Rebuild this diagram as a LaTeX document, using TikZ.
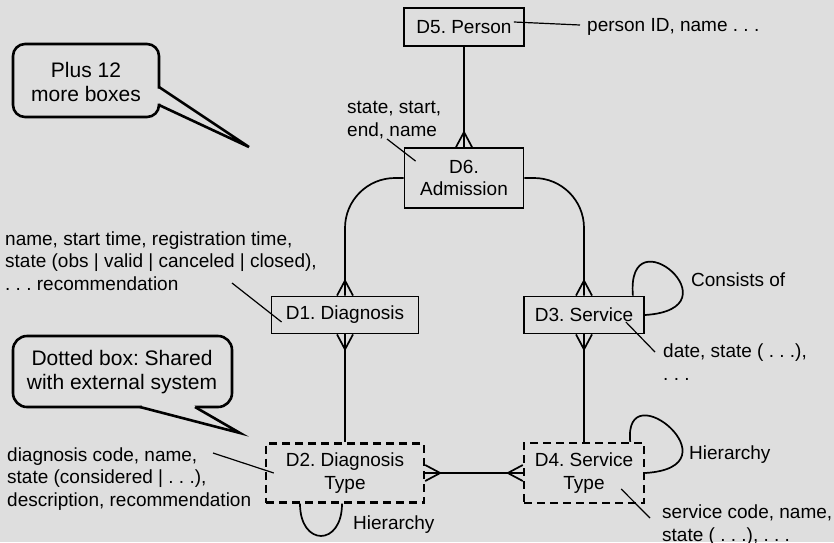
\documentclass[tikz,border=0pt]{standalone}
\usepackage{fontspec}
\setmainfont{Liberation Sans}
\usepackage{tikz}
\usetikzlibrary{positioning}
\usetikzlibrary{decorations.markings}
\frenchspacing
\definecolor{mgray}{rgb}{0.87, 0.87, 0.87}
\tikzset{entity/.style = {draw, fill = mgray, line width = 1.8pt, align = center, inner sep = 0}}
\tikzset{shared/.style = {entity, line width = 2.4pt, dash pattern = on 8pt off 5pt}}
\tikzset{attr/.style = {anchor = west, align = left, inner sep = 0}}
\tikzset{leader/.style = {line width = 1.2pt}}
\tikzset{rel/.style = {line width = 1.7pt}}
\tikzset{bubble/.style = {line width = 2.6pt}}
\tikzset{bubbletext/.style = {align = center, inner sep = 0, font = \fontsize{21}{24.5}\selectfont}}
\tikzset{many end/.style = {postaction = {decorate, decoration = {markings, mark = at position 0.9999 with {\draw [rel] (-15, 0) -- (0, 8) (-15, 0) -- (0, -8);}}}}}
\tikzset{many start/.style = {postaction = {decorate, decoration = {markings, mark = at position 0 with {\draw [rel] (15, 0) -- (0, 8) (15, 0) -- (0, -8);}}}}}

\begin{document}
\begin{tikzpicture}[x = 1pt, y = -1pt, font = \fontsize{19}{22.8}\selectfont]
  \fill [mgray] (0, 0) rectangle (834, 542);
  \useasboundingbox (0, 0) rectangle (834, 542);

  \node [entity, minimum width = 120pt, minimum height = 38pt] (person) at (464, 27) {D5. Person};
  \node [entity, minimum width = 119pt, minimum height = 60pt] (admission) at (464, 178) {D6.\\Admission};
  \node [entity, minimum width = 147pt, minimum height = 37pt] (diagnosis) at (345, 315) {D1. Diagnosis};
  \node [entity, minimum width = 120pt, minimum height = 37pt] (service) at (584, 315) {D3. Service};
  \node [shared, minimum width = 158pt, minimum height = 59pt] (diagtype) at (345, 473) {D2. Diagnosis\\Type};
  \node [shared, minimum width = 120pt, minimum height = 60pt] (servtype) at (584, 473) {D4. Service\\Type};

  \draw [rel, many end] (person) -- (admission);
  \draw [rel, many end, rounded corners = 50pt] (admission.west) -| (diagnosis.north);
  \draw [rel, many end, rounded corners = 50pt] (admission.east) -| (service.north);
  \draw [rel, many start] (diagnosis) -- (diagtype);
  \draw [rel, many start] (service) -- (servtype);
  \draw [rel, many start, many end] (diagtype) -- (servtype);
  \draw [rel, many end] ([xshift = -12pt] service.north east) .. controls +(-7, -84) and +(95, -6) .. (service.east);
  \draw [rel, many end] ([xshift = -15pt] servtype.north east) .. controls +(-7, -72) and +(95, -6) .. (servtype.east);
  \draw [rel, many end] ([xshift = -3pt] diagtype.south) .. controls +(0, 43) and +(0, 43) .. ([xshift = -45pt] diagtype.south);

  \node [attr] (personattr) at (587, 27) {person ID, name . . .};
  \node [attr] (admattr) at (347, 120) {state, start,\\end, name};
  \node [attr] (diagattr) at (5, 261) {name, start time, registration time,\\state (obs | valid | canceled | closed),\\. . . recommendation};
  \node [attr] (servattr) at (663, 362) {date, state ( . . .),\\. . .};
  \node [attr] (consists) at (691, 280) {Consists of};
  \node [attr] (servhier) at (689, 455) {Hierarchy};
  \node [attr] (stattr) at (662, 525) {service code, name,\\state ( . . .), . . .};
  \node [attr] (dtattr) at (7, 479) {diagnosis code, name,\\state (considered | . . .),\\description, recommendation};
  \node [attr] (diaghier) at (353, 525) {Hierarchy};

  \draw [leader] ([shift = {(-11, -5)}] person.east) -- ([shift = {(-7, -2)}] personattr.west);
  \draw [leader] ([shift = {(40, 19)}] admattr.west) -- ([shift = {(12, 14)}] admission.north west);
  \draw [leader] ([shift = {(227, 22)}] diagattr.west) -- ([shift = {(11, 7)}] diagnosis.west);
  \draw [leader] ([shift = {(-19, 7)}] service.east) -- ([shift = {(-8, -10)}] servattr.west);
  \draw [leader] ([shift = {(-24, 16)}] servtype.east) -- ([shift = {(-12, -7)}] stattr.west);
  \draw [leader] ([shift = {(206, -26)}] dtattr.west) -- ([shift = {(9, 0)}] diagtype.west);

  \draw [bubble, fill = mgray, rounded corners = 12pt] (13, 44) rectangle (159, 117);
  \fill [mgray] (156, 88.5) -- (170, 88.5) -- (249, 147) -- (170, 103.5) -- (156, 103.5) -- cycle;
  \draw [bubble] (159, 87) -- (249, 147) -- (159, 105);
  \node [bubbletext] (plusnote) at (86, 82) {Plus 12\\more boxes};

  \draw [bubble, fill = mgray, rounded corners = 14pt] (13, 336) rectangle (232, 407);
  \fill [mgray] (142, 404.5) -- (142, 412) -- (240, 436) -- (193, 404.5) -- cycle;
  \draw [bubble] (140, 407) -- (240, 433) -- (195, 407);
  \node [bubbletext] (sharednote) at (122, 372) {Dotted box: Shared\\with external system};
\end{tikzpicture}
\end{document}
